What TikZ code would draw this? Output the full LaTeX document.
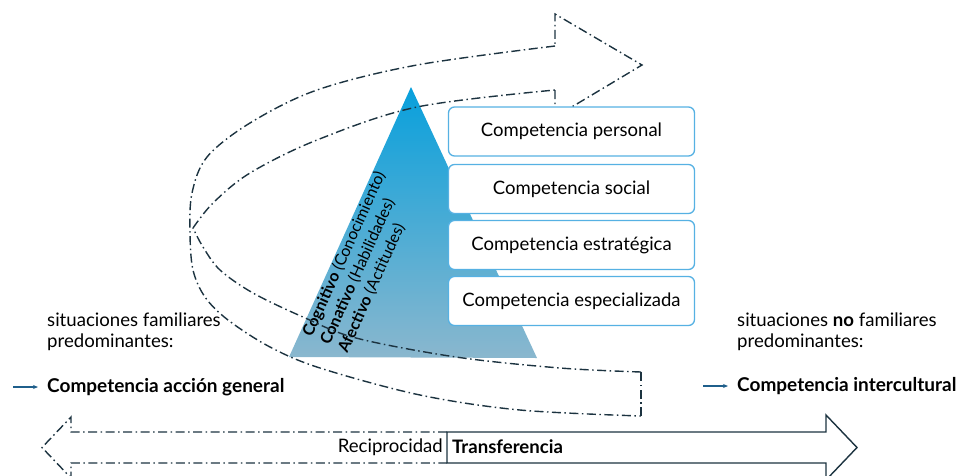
\documentclass[tikz,border=0pt]{standalone}
\usepackage{fontspec}
\setmainfont{Lato}
\usetikzlibrary{arrows.meta}
\definecolor{ddc}{HTML}{1C3340}
\definecolor{bxb}{HTML}{56B1E3}
\definecolor{arr}{HTML}{1F5F8B}
\definecolor{tritop}{RGB}{8,160,220}
\definecolor{trimid}{RGB}{55,155,202}
\definecolor{tribot}{RGB}{138,183,206}
\begin{document}
\begin{tikzpicture}[x=1pt,y=-1pt,
  ddline/.style={draw=ddc, line width=1.4pt, dash pattern=on 9pt off 3.5pt on 1.5pt off 3.5pt},
  cbox/.style={draw=bxb, line width=1.3pt, fill=white, rounded corners=6pt, minimum width=246pt, minimum height=49pt, inner sep=0pt, font=\fontsize{18.5}{21}\selectfont},
  lbl/.style={font=\fontsize{18.6}{21}\selectfont, align=left, anchor=west, inner sep=0pt},
  bl/.style={font=\fontsize{19}{21}\selectfont\bfseries, anchor=west, inner sep=0pt},
  trilbl/.style={font=\fontsize{16}{19.5}\selectfont, align=left, rotate=65.7, anchor=west, inner sep=0pt},
  smallarr/.style={draw=arr, line width=1.2pt, -{Stealth[length=5pt,width=4pt]}}
]
\useasboundingbox (0,0) rectangle (959,475);
% triangle
\coordinate (apex) at (411,87);
\coordinate (bl) at (289,357);
\coordinate (br) at (537,358);
\shade[top color=tritop, middle color=trimid, bottom color=tribot] (apex) -- (bl) -- (br) -- cycle;
\node[trilbl] (lev) at (325,344) {\textbf{Cognitivo} (Conocimiento)\\\textbf{Conativo} (Habilidades)\\\textbf{Afectivo} (Actitudes)};
% big curved arrow
\draw[ddline] plot[smooth,tension=0.55] coordinates {(641,372) (560,368) (456,357) (356,338) (303,317) (253,293) (220,270) (203,247) (193,228)};
\draw[ddline] plot[smooth,tension=0.55] coordinates {(193,228) (213,203) (250,173) (317,140) (417,107) (555,90)};
\draw[ddline] (555,90) -- (555,117) -- (642,65) -- (555,14) -- (555,46);
\draw[ddline] plot[smooth,tension=0.55] coordinates {(555,46) (417,65) (317,90) (250,123) (207,157) (192,193) (190,233) (193,270) (205,297) (228,320) (270,347) (320,368) (420,395) (520,410) (641,416)};
\draw[ddline] (641,416) -- (641,372);
% boxes
\node[cbox] (b1) at (571.5,131.5) {Competencia personal};
\node[cbox] (b2) at (571.5,189) {Competencia social};
\node[cbox] (b3) at (571.5,245) {Competencia estratégica};
\node[cbox] (b4) at (571.5,301) {Competencia especializada};
% side texts
\node[lbl] (lt) at (47,332) {situaciones familiares\\predominantes:};
\node[lbl] (rt) at (737,332) {situaciones \textbf{no} familiares\\predominantes:};
\node[bl] (acg) at (47,387) {Competencia acción general};
\node[bl] (ci) at (737,386) {Competencia intercultural};
\coordinate (la) at (13,387);
\coordinate (ra) at (703,386);
\draw[smallarr] (la) -- ([xshift=-9pt]acg.west);
\draw[smallarr] (ra) -- ([xshift=-9pt]ci.west);
% bottom arrows
\draw[ddline] (447,432) -- (71,432) -- (71,417) -- (42,447.5) -- (71,478) -- (71,463) -- (447,463);
\draw[draw=ddc, line width=1.4pt, fill=white] (447,432) -- (826,432) -- (826,415) -- (857,447.5) -- (826,480) -- (826,463) -- (447,463) -- cycle;
\node[font=\fontsize{18.6}{21}\selectfont, anchor=east, inner sep=0pt] (rec) at (443,447) {Reciprocidad};
\node[font=\fontsize{18.6}{21}\selectfont\bfseries, anchor=west, inner sep=0pt] (tra) at (452,447) {Transferencia};
\end{tikzpicture}
\end{document}
